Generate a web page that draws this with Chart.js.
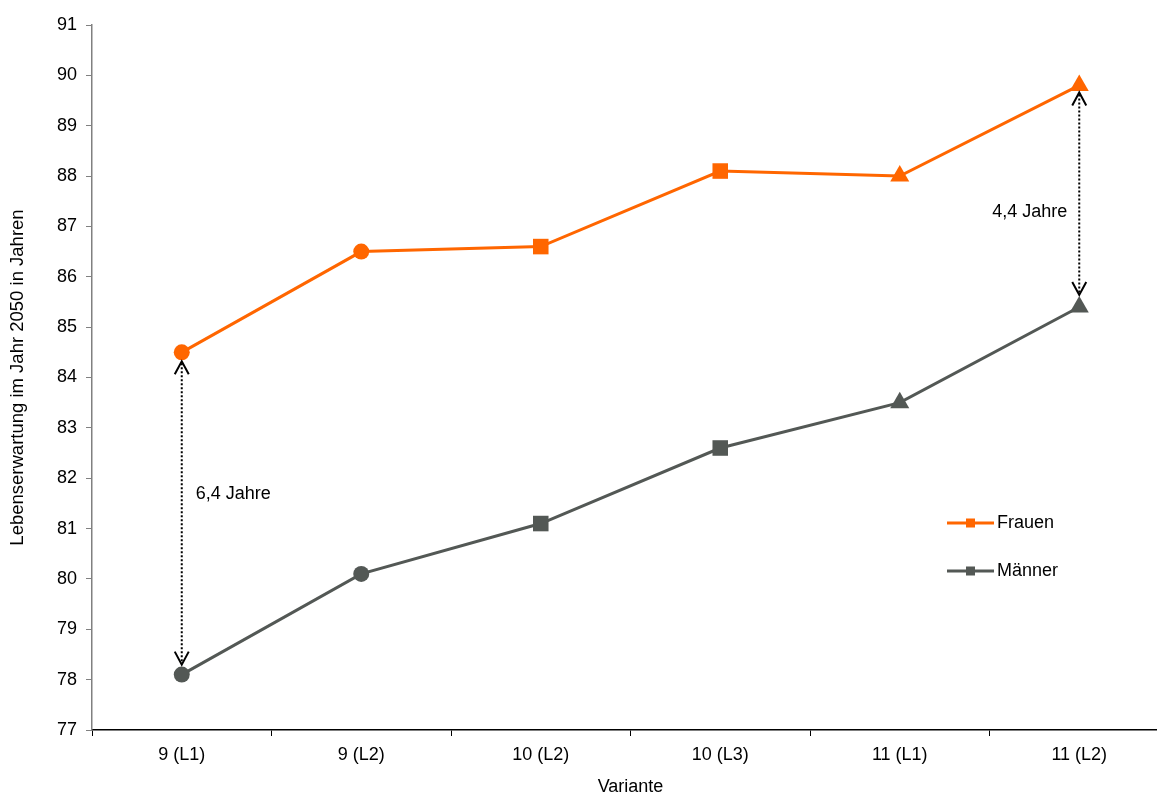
<!DOCTYPE html>
<html>
<head>
<meta charset="utf-8">
<script src="https://cdn.jsdelivr.net/npm/chart.js@4"></script>
<style>
    html, body { margin: 0; padding: 0; background: #fff; overflow: hidden; }
    canvas { display: block; }
</style>
</head>
<body>
<canvas id="line_chart" width="1180" height="796"></canvas>
<script>
var categories = ['9 (L1)', '9 (L2)', '10 (L2)', '10 (L3)', '11 (L1)', '11 (L2)'];
var frauen = [84.5, 86.5, 86.6, 88.1, 88.0, 89.8];
var maenner = [78.1, 80.1, 81.1, 82.6, 83.5, 85.4];
var yMin = 77, yMax = 91;
var gapIndex = [0, 5];
var gapLabels = ['6,4 Jahre', '4,4 Jahre'];

var ORANGE = '#ff6600';
var GREY = '#535855';
var FONT = '"Liberation Sans", Arial, sans-serif';
var markerStyle = ['circle', 'circle', 'rect', 'rect', 'triangle', 'triangle'];
var markerSize = [8, 8, 11, 11, 11, 11];

Chart.defaults.font.family = FONT;
Chart.defaults.font.size = 18;
Chart.defaults.color = '#000';

function arrowHead(ctx, x, y, dir) {
    // open V head, tip at (x,y), dir -1 points up, 1 points down
    ctx.beginPath();
    ctx.moveTo(x - 7, y - dir * 13);
    ctx.lineTo(x, y);
    ctx.lineTo(x + 7, y - dir * 13);
    ctx.stroke();
}

var extras = {
    id: 'extras',
    afterDatasetsDraw: function (chart) {
        var ctx = chart.ctx;
        var xs = chart.scales.x, ys = chart.scales.y;
        ctx.save();
        // gap arrows
        gapIndex.forEach(function (i, k) {
            var x = xs.getPixelForValue(i);
            var fy = ys.getPixelForValue(frauen[i]), my = ys.getPixelForValue(maenner[i]);
            var top = fy + (k === 0 ? 9 : 7);
            var bot = my - (k === 0 ? 10 : 12);
            ctx.strokeStyle = '#000';
            ctx.lineWidth = 2;
            ctx.setLineDash([2, 2]);
            ctx.beginPath();
            ctx.moveTo(x, top + 2);
            ctx.lineTo(x, bot - 2);
            ctx.stroke();
            ctx.setLineDash([]);
            ctx.lineWidth = 2;
            arrowHead(ctx, x, top, -1);
            arrowHead(ctx, x, bot, 1);
            ctx.fillStyle = '#000';
            ctx.font = '18px ' + FONT;
            ctx.textBaseline = 'middle';
            if (k === 0) {
                ctx.textAlign = 'left';
                ctx.fillText(gapLabels[k], x + 14, fy + 0.44 * (my - fy));
            } else {
                ctx.textAlign = 'right';
                ctx.fillText(gapLabels[k], x - 12, fy + 0.57 * (my - fy));
            }
        });
        // legend
        chart.data.datasets.forEach(function (ds, k) {
            var lx = 947, ly = 523 + k * 48;
            ctx.strokeStyle = ds.borderColor;
            ctx.lineWidth = 3;
            ctx.beginPath();
            ctx.moveTo(lx, ly);
            ctx.lineTo(lx + 47, ly);
            ctx.stroke();
            ctx.fillStyle = ds.borderColor;
            ctx.fillRect(lx + 19, ly - 4.5, 9, 9);
            ctx.fillStyle = '#000';
            ctx.textAlign = 'left';
            ctx.textBaseline = 'middle';
            ctx.font = '18px ' + FONT;
            ctx.fillText(ds.label, lx + 50, ly);
        });
        ctx.restore();
    }
};

new Chart(document.getElementById('line_chart').getContext('2d'), {
    type: 'line',
    data: {
        labels: categories,
        datasets: [{
            label: 'Frauen',
            data: frauen,
            borderColor: ORANGE,
            backgroundColor: ORANGE,
            borderWidth: 3,
            pointStyle: markerStyle,
            pointRadius: markerSize,
            pointBorderWidth: 0,
            tension: 0
        }, {
            label: 'Männer',
            data: maenner,
            borderColor: GREY,
            backgroundColor: GREY,
            borderWidth: 3,
            pointStyle: markerStyle,
            pointRadius: markerSize,
            pointBorderWidth: 0,
            tension: 0
        }]
    },
    options: {
        responsive: false,
        animation: false,
        layout: { padding: { left: 0, top: 25, right: 0, bottom: 0 } },
        plugins: {
            legend: { display: false },
            tooltip: { enabled: false }
        },
        scales: {
            x: {
                offset: true,
                afterFit: function (s) { s.height = 66; },
                grid: {
                    offset: true,
                    drawOnChartArea: false,
                    drawTicks: true,
                    tickLength: 6,
                    color: '#000'
                },
                border: { color: '#000', width: 1.5 },
                ticks: { padding: 8, font: { size: 18 }, maxRotation: 0 },
                title: {
                    display: true,
                    text: 'Variante',
                    font: { size: 18, lineHeight: 1 },
                    padding: { top: 0, bottom: 0 }
                }
            },
            y: {
                min: yMin,
                max: yMax,
                afterFit: function (s) { s.width = 92; },
                grid: {
                    drawOnChartArea: false,
                    drawTicks: true,
                    tickLength: 6,
                    color: '#808080'
                },
                border: { color: '#808080', width: 1.5 },
                ticks: { stepSize: 1, padding: 9, font: { size: 18 } },
                title: {
                    display: true,
                    text: 'Lebenserwartung im Jahr 2050 in Jahren',
                    font: { size: 18.5, lineHeight: 1 },
                    padding: { top: 9, bottom: 0 }
                }
            }
        }
    },
    plugins: [extras]
});
</script>
</body>
</html>
